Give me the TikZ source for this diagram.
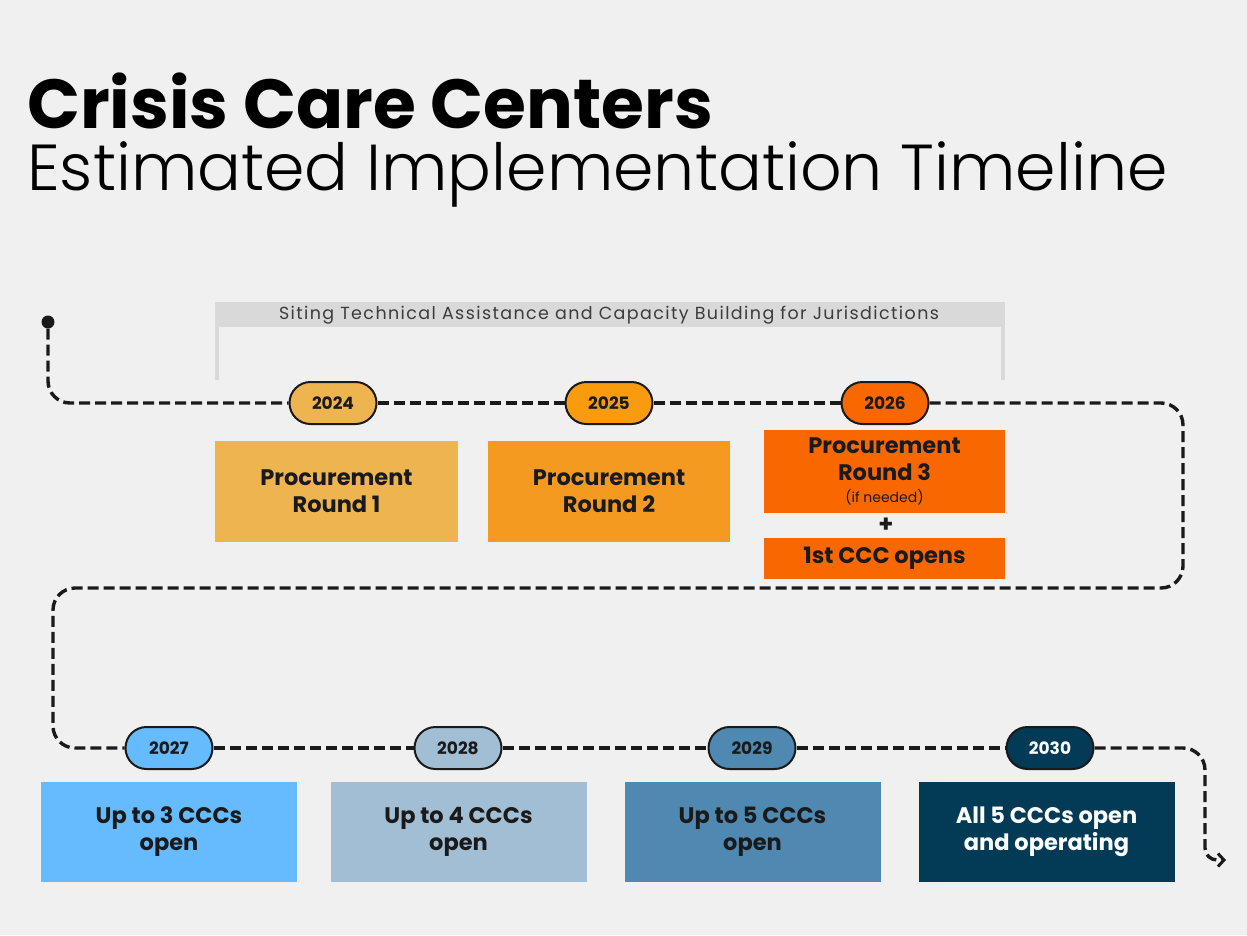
\documentclass[tikz,border=0pt]{standalone}
\usepackage{fontspec}
\setmainfont{Poppins}
\newfontfamily\lightfont{Poppins Light}
\usetikzlibrary{arrows.meta,positioning,shapes.misc}
\definecolor{bggray}{HTML}{F0F0F0}
\definecolor{bracketgray}{HTML}{D9D9D9}
\definecolor{inkblack}{HTML}{1A1A1A}
\definecolor{gold}{HTML}{EDB44F}
\definecolor{amber}{HTML}{F59A21}
\definecolor{amberpill}{HTML}{F89C0E}
\definecolor{flame}{HTML}{F96800}
\definecolor{sky}{HTML}{65BBFE}
\definecolor{mist}{HTML}{A1BED5}
\definecolor{steel}{HTML}{4F88B0}
\definecolor{navy}{HTML}{033A55}
\tikzset{
  year/.style={rounded rectangle,draw=inkblack,line width=2pt,minimum width=87pt,
    minimum height=42pt,inner sep=0pt,text=inkblack,
    font=\bfseries\fontsize{17}{17}\selectfont},
  stage/.style={rectangle,inner sep=0pt,align=center,text=inkblack,
    font=\bfseries\fontsize{22.5}{27}\selectfont},
  trail/.style={line width=3.4pt,draw=inkblack,dash pattern=on 11pt off 5pt,
    rounded corners=22pt},
}

\begin{document}
\begin{tikzpicture}[x=1pt,y=-1pt]
\useasboundingbox (0,0) rectangle (1247,935);
\fill[bggray] (0,0) rectangle (1247,935);
% titles
\node (title) [anchor=base west,inner sep=0pt,font=\bfseries\fontsize{69.5}{70}\selectfont] at (27,128) {Crisis Care Centers};
\node (subtitle) [anchor=base west,inner sep=0pt,font=\lightfont\fontsize{65}{65}\selectfont] at (27,190) {Estimated Implementation Timeline};
% bracket
\fill[bracketgray] (215,302) rectangle (1005,327);
\fill[bracketgray] (215,327) rectangle (219,380);
\fill[bracketgray] (1001,327) rectangle (1005,380);
\node (siting) [font=\fontsize{17.5}{17.5}\selectfont\addfontfeature{LetterSpace=8},text=inkblack!85] at (609,315) {Siting Technical Assistance and Capacity Building for Jurisdictions};
%
\node (start) [circle,fill=inkblack,inner sep=0pt,minimum size=13pt] at (48,322) {};
\node (p24) [year,fill=gold] at (333,403) {2024};
\node (p25) [year,fill=amberpill] at (609,403) {2025};
\node (p26) [year,fill=flame] at (885,403) {2026};
\node (p27) [year,fill=sky] at (169,748) {2027};
\node (p28) [year,fill=mist] at (458,748) {2028};
\node (p29) [year,fill=steel] at (752,748) {2029};
\node (p30) [year,fill=navy,text=white] at (1050,748) {2030};
%
\node (b24) [stage,fill=gold,minimum width=243pt,minimum height=101pt] at (336.5,491.5) {Procurement\\Round 1};
\node (b25) [stage,fill=amber,minimum width=242pt,minimum height=101pt] at (609,491.5) {Procurement\\Round 2};
\node (b26) [stage,fill=flame,minimum width=241pt,minimum height=83pt] at (884.5,471.5) {Procurement\\Round 3\\[-5pt]{\mdseries\fontsize{14}{14}\selectfont (if needed)}};
\node (plus) [font=\bfseries\fontsize{24}{24}\selectfont,text=inkblack] at (886,525) {+};
\node (b26b) [stage,fill=flame,minimum width=241pt,minimum height=41pt] at (884.5,558.5) {1st CCC opens};
\node (b27) [stage,fill=sky,minimum width=256pt,minimum height=100pt] at (169,832) {Up to 3 CCCs\\open};
\node (b28) [stage,fill=mist,minimum width=256pt,minimum height=100pt] at (458.5,832) {Up to 4 CCCs\\open};
\node (b29) [stage,fill=steel,minimum width=256pt,minimum height=100pt] at (752.5,832) {Up to 5 CCCs\\open};
\node (b30) [stage,fill=navy,text=white,minimum width=256pt,minimum height=100pt] at (1046.5,832) {All 5 CCCs open\\and operating};
%
\coordinate (finish) at (1226,860);
\draw[trail] (start.south) -- (48,403) -- (p24.west);
\draw[trail] (p24.east) -- (p25.west);
\draw[trail] (p25.east) -- (p26.west);
\draw[trail] (p26.east) -- (1183,403) -- (1183,588) -- (53,588) -- (53,748) -- (p27.west);
\draw[trail] (p27.east) -- (p28.west);
\draw[trail] (p28.east) -- (p29.west);
\draw[trail] (p29.east) -- (p30.west);
\draw[trail,-{Straight Barb[length=6pt,width=13pt,line width=3pt]}] (p30.east) -- (1205,748) [rounded corners=12pt] -- (1205,860) -- (finish);
%
\end{tikzpicture}
\end{document}
